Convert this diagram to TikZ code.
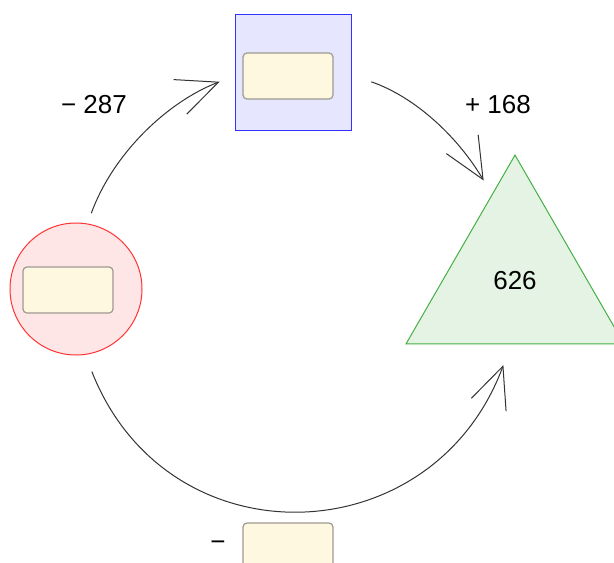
\documentclass[tikz,border=0pt]{standalone}
\usepackage{fontspec}
\setmainfont{Liberation Sans}
\usetikzlibrary{positioning,shapes.geometric,arrows.meta}

\definecolor{redfill}{HTML}{FFE6E6}
\definecolor{redline}{HTML}{FF3333}
\definecolor{bluefill}{HTML}{E6E6FF}
\definecolor{blueline}{HTML}{3333FF}
\definecolor{greenfill}{HTML}{E4F3E4}
\definecolor{greenline}{HTML}{44B044}
\definecolor{boxfill}{HTML}{FFF8E1}
\definecolor{boxline}{HTML}{9E9A92}
\definecolor{arrline}{HTML}{333333}

\begin{document}
\begin{tikzpicture}[on grid,font=\fontsize{26}{30}\selectfont,
	inbox/.style={rectangle,rounded corners=4pt,draw=boxline,fill=boxfill,line width=1.2pt,
		minimum width=90pt,minimum height=46pt,inner sep=0pt},
	arr/.style={color=arrline,line width=1pt,-{Straight Barb[length=41pt,width=37pt]}}]
	\useasboundingbox (0,0) rectangle (614pt,-563pt);

	\node[circle,draw=redline,fill=redfill,line width=1pt,minimum size=132pt,inner sep=0pt] (circ) at (76pt,-289pt) {};
	\node[rectangle,draw=blueline,fill=bluefill,line width=1pt,minimum size=116pt,inner sep=0pt] (sq) [above right=217pt and 217pt of circ] {};
	\node[regular polygon,regular polygon sides=3,draw=greenline,fill=greenfill,line width=1pt,minimum size=251.8pt,inner sep=0pt] (tri) [above right=8pt and 439pt of circ] {626};

	\node[inbox] (circbox) [below left=1pt and 8pt of circ] {};
	\node[inbox] (sqbox) [below left=4pt and 5pt of sq] {};
	\node[inbox] (bot) [below right=257pt and 212pt of circ] {};

	\node (lbl_a) [above right=184pt and 18pt of circ] {− 287};
	\node (lbl_b) [above left=176pt and 17pt of tri] {+ 168};
	\node (lbl_c) [left=70pt of bot] {−};

	\path[arr]
	(circ.80) edge [out=70,in=201,looseness=0.9,shorten <=11pt,shorten >=16pt] ([yshift=-4pt]sq.west)
	([yshift=-3pt]sq.east) edge [out=-19,in=120.5,looseness=0.93,shorten <=21pt,shorten >=16pt] (tri.105)
	(circ.-82) edge [out=-68.5,in=249.7,looseness=1.35,shorten <=18pt,shorten >=22pt] ([xshift=-4pt]tri.south);

\end{tikzpicture}
\end{document}
